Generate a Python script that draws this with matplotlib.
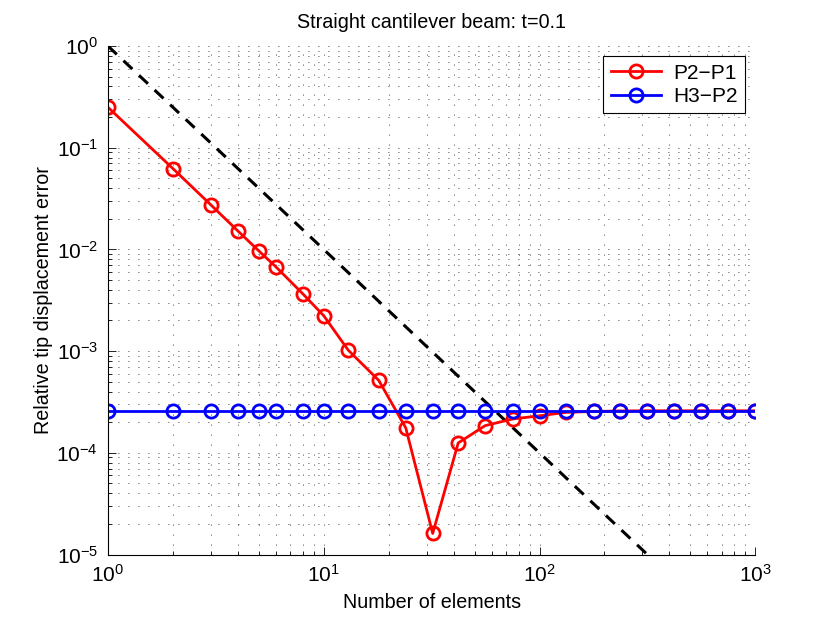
import matplotlib
matplotlib.use('Agg')
import matplotlib.pyplot as plt
from matplotlib.ticker import LogLocator, NullFormatter

plt.rcParams['font.family'] = ['Liberation Sans', 'DejaVu Sans']
plt.rcParams['mathtext.fontset'] = 'custom'
plt.rcParams['mathtext.rm'] = 'Liberation Sans'

# number of elements
n_elems = [1, 2, 3, 4, 5, 6, 8, 10, 13, 18, 24, 32, 42, 56, 75, 100,
           133, 178, 237, 316, 422, 562, 750, 1000]

# relative tip displacement error
p2_p1 = [0.25, 0.0624, 0.0274, 0.0152, 0.00968, 0.00675, 0.00366, 0.00223,
         1.02e-3, 5.15e-4, 1.76e-4, 1.61e-5, 1.25e-4, 1.85e-4, 2.15e-4, 2.31e-4,
         2.50e-4, 2.55e-4, 2.58e-4, 2.59e-4, 2.59e-4, 2.59e-4, 2.59e-4, 2.59e-4]
h3_p2 = [2.6e-4] * len(n_elems)

# reference slope line (order 2)
ref_x = [1, 316]
ref_y = [1, 1e-5]

fig = plt.figure(figsize=(8.3, 6.25), dpi=100)
ax = fig.add_axes([0.13, 0.1128, 0.78, 0.8136])

ax.plot(ref_x, ref_y, color='k', lw=2.2, linestyle=(0, (4, 3)))
ax.plot(n_elems, p2_p1, color='red', lw=2, marker='o', ms=9.5,
        mfc='none', mew=2, label='P2\u2212P1')
ax.plot(n_elems, h3_p2, color='blue', lw=2, marker='o', ms=9.5,
        mfc='none', mew=2, label='H3\u2212P2')

ax.set_xscale('log')
ax.set_yscale('log')
ax.set_xlim(1, 1000)
ax.set_ylim(1e-5, 1)

ax.xaxis.set_major_locator(LogLocator(base=10, numticks=10))
ax.yaxis.set_major_locator(LogLocator(base=10, numticks=10))
ax.xaxis.set_minor_locator(LogLocator(base=10, subs=range(2, 10), numticks=20))
ax.yaxis.set_minor_locator(LogLocator(base=10, subs=range(2, 10), numticks=20))
ax.xaxis.set_minor_formatter(NullFormatter())
ax.yaxis.set_minor_formatter(NullFormatter())

ax.grid(True, which='both', color='k', lw=0.6, linestyle=(0, (1, 11)))
ax.set_axisbelow(True)

for side in ['top', 'right']:
    ax.spines[side].set_visible(False)
ax.spines['left'].set_linewidth(0.8)
ax.spines['bottom'].set_linewidth(0.8)
ax.tick_params(which='both', direction='in', labelsize=15, width=0.6)
ax.tick_params(which='major', length=6, pad=7)
ax.tick_params(which='minor', length=3)

ax.set_xlabel('Number of elements', fontsize=14.2, labelpad=5)
ax.set_ylabel('Relative tip displacement error', fontsize=14.2)
ax.yaxis.set_label_coords(-0.085, 0.5)
ax.set_title('Straight cantilever beam: t=0.1', fontsize=14.2, pad=13)

leg = ax.legend(loc='upper right', fontsize=15, fancybox=False, framealpha=1,
                edgecolor='k', handlelength=2.4, handletextpad=0.6,
                borderpad=0.35, labelspacing=0.2, borderaxespad=0.5)
leg.get_frame().set_linewidth(0.8)

fig.savefig('out.png', dpi=100)
